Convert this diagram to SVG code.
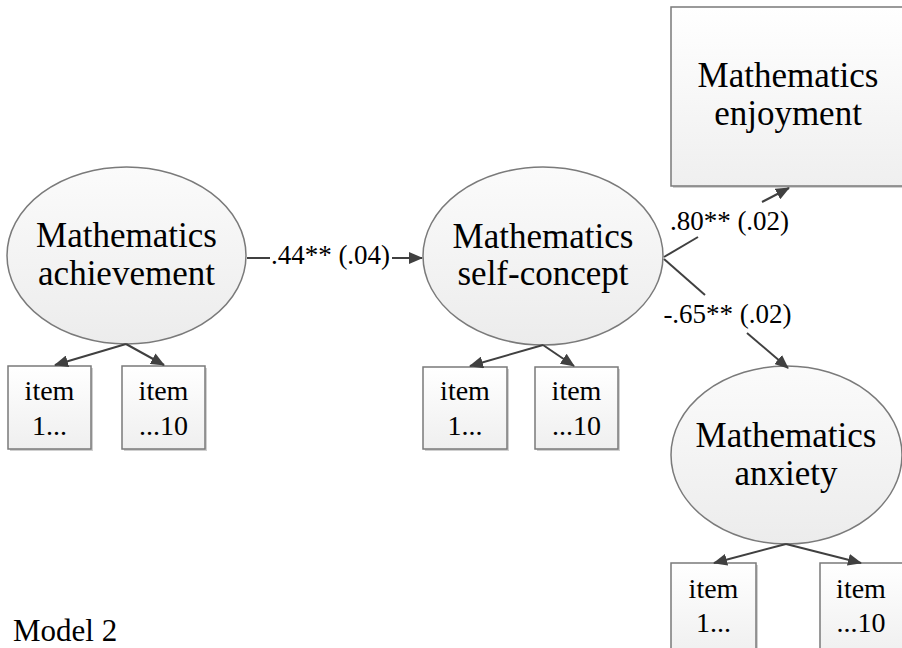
<svg xmlns="http://www.w3.org/2000/svg" width="902" height="648" viewBox="0 0 902 648">
<defs>
<linearGradient id="g" x1="0" y1="0" x2="0" y2="1">
<stop offset="0" stop-color="#fbfbfb"/><stop offset="1" stop-color="#ececec"/>
</linearGradient>
<linearGradient id="g2" x1="0" y1="0" x2="0" y2="1">
<stop offset="0" stop-color="#ffffff"/><stop offset="1" stop-color="#efefef"/>
</linearGradient>
<marker id="ah" markerWidth="14" markerHeight="12" refX="13" refY="6" orient="auto" markerUnits="userSpaceOnUse">
<path d="M0,0 L14,6 L0,12 z" fill="#404040"/>
</marker>
</defs>
<g id="achievement">
<ellipse cx="126.5" cy="255.5" rx="119.5" ry="88.5" fill="url(#g)" stroke="#7a7a7a" stroke-width="1.5"/>
<text font-family="serif" font-size="35" text-anchor="middle" x="126.5" y="247">Mathematics</text>
<text font-family="serif" font-size="35" text-anchor="middle" x="126.5" y="285">achievement</text>
</g>
<g id="ach-item1"><rect x="10" y="368" width="83" height="83" fill="#d0d0d0"/><rect x="8" y="366" width="83" height="83" fill="url(#g2)" stroke="#7a7a7a" stroke-width="1.5"/><text font-family="serif" font-size="28" text-anchor="middle" x="49.5" y="400">item</text><text font-family="serif" font-size="28" text-anchor="middle" x="49.5" y="435">1...</text></g>
<g id="ach-item10"><rect x="124" y="368" width="83" height="83" fill="#d0d0d0"/><rect x="122" y="366" width="83" height="83" fill="url(#g2)" stroke="#7a7a7a" stroke-width="1.5"/><text font-family="serif" font-size="28" text-anchor="middle" x="163.5" y="400">item</text><text font-family="serif" font-size="28" text-anchor="middle" x="163.5" y="435">...10</text></g>

<g id="selfconcept">
<ellipse cx="543" cy="256" rx="120" ry="89" fill="url(#g)" stroke="#7a7a7a" stroke-width="1.5"/>
<text font-family="serif" font-size="35" text-anchor="middle" x="543" y="248">Mathematics</text>
<text font-family="serif" font-size="35" text-anchor="middle" x="543" y="285">self-concept</text>
</g>
<g id="sc-item1"><rect x="425" y="369" width="84" height="82" fill="#d0d0d0"/><rect x="423" y="367" width="84" height="82" fill="url(#g2)" stroke="#7a7a7a" stroke-width="1.5"/><text font-family="serif" font-size="28" text-anchor="middle" x="465" y="400">item</text><text font-family="serif" font-size="28" text-anchor="middle" x="465" y="435">1...</text></g>
<g id="sc-item10"><rect x="537" y="369" width="83" height="82" fill="#d0d0d0"/><rect x="535" y="367" width="83" height="82" fill="url(#g2)" stroke="#7a7a7a" stroke-width="1.5"/><text font-family="serif" font-size="28" text-anchor="middle" x="576.5" y="400">item</text><text font-family="serif" font-size="28" text-anchor="middle" x="576.5" y="435">...10</text></g>

<g id="enjoyment">
<rect x="673" y="9" width="240" height="179" fill="#d0d0d0"/>
<rect x="671" y="7" width="240" height="179" fill="url(#g2)" stroke="#7a7a7a" stroke-width="1.5"/>
<text font-family="serif" font-size="35" text-anchor="middle" x="788" y="87">Mathematics</text>
<text font-family="serif" font-size="35" text-anchor="middle" x="788" y="125">enjoyment</text>
</g>

<g id="anxiety">
<ellipse cx="786.5" cy="455" rx="115.5" ry="89" fill="url(#g)" stroke="#7a7a7a" stroke-width="1.5"/>
<text font-family="serif" font-size="35" text-anchor="middle" x="786" y="447">Mathematics</text>
<text font-family="serif" font-size="35" text-anchor="middle" x="786" y="485">anxiety</text>
</g>
<g id="anx-item1"><rect x="673" y="565" width="85" height="95" fill="#d0d0d0"/><rect x="671" y="563" width="85" height="95" fill="url(#g2)" stroke="#7a7a7a" stroke-width="1.5"/><text font-family="serif" font-size="28" text-anchor="middle" x="713.5" y="598">item</text><text font-family="serif" font-size="28" text-anchor="middle" x="713.5" y="632">1...</text></g>
<g id="anx-item10"><rect x="822" y="565" width="90" height="95" fill="#d0d0d0"/><rect x="820" y="563" width="90" height="95" fill="url(#g2)" stroke="#7a7a7a" stroke-width="1.5"/><text font-family="serif" font-size="28" text-anchor="middle" x="861" y="598">item</text><text font-family="serif" font-size="28" text-anchor="middle" x="861" y="632">...10</text></g>

<g id="connectors" stroke="#404040" stroke-width="2">
<line x1="247" y1="258" x2="270" y2="258"/>
<line x1="392" y1="258" x2="422" y2="258" marker-end="url(#ah)"/>
<line x1="664" y1="257" x2="698" y2="237"/>
<line x1="762" y1="202" x2="789" y2="188" marker-end="url(#ah)"/>
<line x1="664" y1="259" x2="705" y2="295"/>
<line x1="747" y1="333" x2="788" y2="368" marker-end="url(#ah)"/>
<line x1="126" y1="344" x2="55" y2="365" marker-end="url(#ah)"/>
<line x1="126" y1="344" x2="164" y2="365" marker-end="url(#ah)"/>
<line x1="543" y1="345" x2="470" y2="366" marker-end="url(#ah)"/>
<line x1="543" y1="345" x2="574" y2="366" marker-end="url(#ah)"/>
<line x1="786" y1="544" x2="714" y2="563" marker-end="url(#ah)"/>
<line x1="786" y1="544" x2="861" y2="563" marker-end="url(#ah)"/>
</g>
<g id="labels">
<text font-family="serif" font-size="27" text-anchor="middle" x="330.5" y="264">.44** (.04)</text>
<text font-family="serif" font-size="27" text-anchor="middle" x="729.5" y="230">.80** (.02)</text>
<text font-family="serif" font-size="27" text-anchor="middle" x="727.5" y="323">-.65** (.02)</text>
</g>

<text font-family="serif" font-size="31" x="13" y="641">Model 2</text>
</svg>
